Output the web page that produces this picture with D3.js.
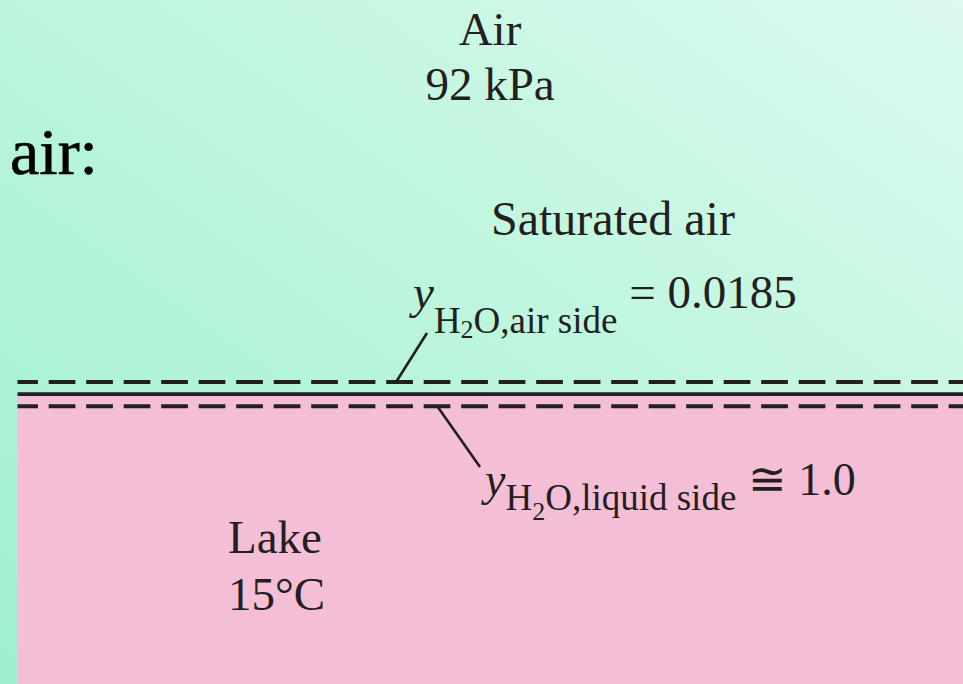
<!DOCTYPE html>
<html>
<head>
<meta charset="utf-8">
<script src="https://cdn.jsdelivr.net/npm/d3@7"></script>
<style>
  html, body { margin: 0; padding: 0; overflow: hidden; background: #fff; }
  svg { display: block; }
</style>
</head>
<body>
<svg id="chart" width="963" height="684"></svg>
<script>
// ---- content (text of the diagram) ----
const airLabel = ["Air", "92 kPa"];
const lakeLabel = ["Lake", "15\u00B0C"];
const sideHeading = "air:";
const saturatedLabel = "Saturated air";
const airSideParts = ["y", "H", "2", "O,air side", " = 0.0185"];
const liquidSideParts = ["y", "H", "2", "O,liquid side", " \u2245 1.0"];
// interface layers (top dashed, solid interface, bottom dashed)
const layers = ["airFilm", "interface", "liquidFilm"];
const layerStyle = ["dash", "solid", "dash"];

const W = 963, H = 684;
const svg = d3.select("#chart");
const ink = "#231f20";
const serif = "'Liberation Serif', 'Times New Roman', serif";

// background gradient
const defs = svg.append("defs");
const grad = defs.append("linearGradient").attr("id", "bg")
  .attr("x1", "0").attr("y1", "1").attr("x2", "1").attr("y2", "0");
grad.append("stop").attr("offset", "0").attr("stop-color", "#9ff0cf");
grad.append("stop").attr("offset", "0.45").attr("stop-color", "#b8f5da");
grad.append("stop").attr("offset", "1").attr("stop-color", "#dcfaef");
svg.append("rect").attr("width", W).attr("height", H).attr("fill", "url(#bg)");

// vertical layout scale for the interface layers
const yLayer = d3.scalePoint().domain(layers).range([382, 406.3]);
const xLeft = 17.5;

// lake
svg.append("rect")
  .attr("x", xLeft).attr("y", yLayer("interface"))
  .attr("width", W - xLeft).attr("height", H - yLayer("interface"))
  .attr("fill", "#f4bed6");

// layer lines
svg.selectAll("line.layer").data(layers).join("line")
  .attr("class", "layer")
  .attr("x1", xLeft).attr("x2", W)
  .attr("y1", d => yLayer(d)).attr("y2", d => yLayer(d))
  .attr("stroke", ink)
  .attr("stroke-width", (d, i) => layerStyle[i] === "dash" ? 4 : 3.6)
  .attr("stroke-dasharray", (d, i) => layerStyle[i] === "dash" ? "26.7 10.8" : null)
  .attr("stroke-dashoffset", 6.3);

// leader lines
svg.append("line")
  .attr("x1", 396.7).attr("y1", yLayer("airFilm") - 1)
  .attr("x2", 427).attr("y2", 333)
  .attr("stroke", ink).attr("stroke-width", 2.6);
svg.append("line")
  .attr("x1", 438).attr("y1", yLayer("liquidFilm") + 1)
  .attr("x2", 480).attr("y2", 467)
  .attr("stroke", ink).attr("stroke-width", 2.6);

// texts
const txt = (x, y, s, size, anchor) => svg.append("text")
  .attr("x", x).attr("y", y)
  .attr("font-family", serif).attr("font-size", size)
  .attr("fill", ink).attr("text-anchor", anchor || "start")
  .text(s);

airLabel.forEach((s, i) => txt(490, 45 + i * 55, s, 47, "middle"));
lakeLabel.forEach((s, i) => txt(228, 553 + i * 57, s, 47));
txt(491, 235, saturatedLabel, 48);
txt(10, 174, sideHeading, 66).attr("fill", "#000")
  .attr("stroke", "#000").attr("stroke-width", 0.6);

function subscriptLabel(x, y, parts, mainSize, subDy, twoDy) {
  const t = svg.append("text").attr("x", x).attr("y", y)
    .attr("font-family", serif).attr("fill", ink);
  t.append("tspan").attr("font-size", mainSize).attr("font-style", "italic").text(parts[0]);
  t.append("tspan").attr("font-size", 37).attr("dy", subDy).text(parts[1]);
  t.append("tspan").attr("font-size", 26).attr("dy", twoDy).text(parts[2]);
  t.append("tspan").attr("font-size", 37).attr("dy", -twoDy).text(parts[3]);
  t.append("tspan").attr("font-size", mainSize).attr("dy", -subDy)
    .style("white-space", "pre").text(parts[4]);
}
subscriptLabel(413, 308, airSideParts, 47, 25, 5);
subscriptLabel(485, 495, liquidSideParts, 46, 15, 10);
</script>
</body>
</html>
